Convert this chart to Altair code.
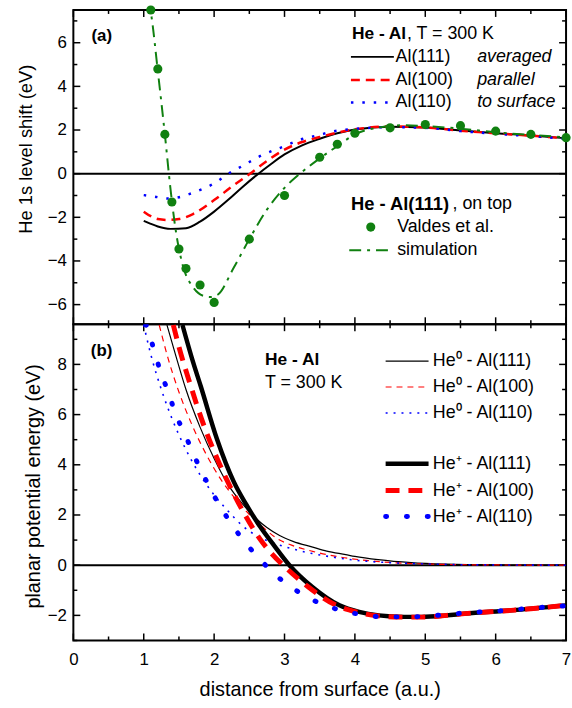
import altair as alt
import pandas as pd

FONT = "Liberation Sans"

# ---------------- panel (a) data : He 1s level shift ----------------
al111_x = [1.0, 1.1, 1.2, 1.38, 1.6, 1.8, 2.0, 2.2, 2.4, 2.63, 2.8, 3.0, 3.25, 3.5, 3.75, 4.0, 4.5, 5.0, 5.5, 6.0, 6.5, 7.0]
al111_y = [-2.16, -2.3, -2.42, -2.53, -2.5, -2.2, -1.74, -1.2, -0.62, 0.0, 0.42, 0.88, 1.3, 1.6, 1.85, 2.02, 2.15, 2.12, 1.98, 1.85, 1.75, 1.62]

al100_x = [1.0, 1.1, 1.2, 1.34, 1.5, 1.7, 2.0, 2.25, 2.51, 2.75, 3.0, 3.25, 3.5, 3.75, 4.0, 4.5, 5.0, 5.5, 6.0, 6.5, 7.0]
al100_y = [-1.74, -1.95, -2.08, -2.12, -2.08, -1.85, -1.21, -0.6, 0.0, 0.58, 1.1, 1.45, 1.68, 1.88, 2.03, 2.16, 2.12, 1.97, 1.85, 1.74, 1.62]

al110_x = [1.0, 1.15, 1.34, 1.5, 1.67, 1.85, 2.0, 2.2, 2.4, 2.65, 3.0, 3.22, 3.5, 3.68, 4.0, 4.5, 5.0, 5.5, 6.0, 6.5, 7.0]
al110_y = [-0.98, -1.05, -1.14, -1.08, -0.91, -0.68, -0.45, 0.0, 0.35, 0.8, 1.26, 1.55, 1.78, 1.93, 2.05, 2.13, 2.1, 1.95, 1.83, 1.72, 1.6]

valdes_x = [1.1, 1.2, 1.3, 1.4, 1.5, 1.6, 1.8, 2.0, 2.5, 3.0, 3.5, 3.75, 4.0, 4.5, 5.0, 5.5, 6.0, 6.5, 7.0]
valdes_y = [7.5, 4.8, 1.8, -1.3, -3.45, -4.35, -5.1, -5.9, -3.0, -1.0, 0.75, 1.35, 1.85, 2.1, 2.25, 2.2, 1.95, 1.8, 1.65]

sim_x = [1.06, 1.1, 1.2, 1.3, 1.38, 1.45, 1.55, 1.7, 1.85, 1.95, 2.05, 2.28, 2.5, 2.75, 3.0, 3.22, 3.5, 3.75, 4.0, 4.35, 4.7, 5.0, 5.5, 6.0, 6.5, 7.0]
sim_y = [8.0, 7.4, 4.7, 1.8, -0.7, -2.5, -4.15, -5.2, -5.6, -5.65, -5.55, -4.3, -3.0, -1.65, -0.65, 0.0, 0.7, 1.26, 1.8, 2.12, 2.22, 2.18, 2.06, 1.9, 1.77, 1.67]

# ---------------- panel (b) data : planar potential energy ----------------
he0_111_x = [1.33, 1.45, 1.6, 1.8, 2.0, 2.2, 2.4, 2.6, 2.75, 2.93, 3.12, 3.4, 3.6, 3.87, 4.0, 4.33, 4.8, 5.3, 6.0, 7.0]
he0_111_y = [9.57, 8.4, 7.0, 5.5, 4.25, 3.2, 2.45, 1.85, 1.5, 1.18, 0.95, 0.72, 0.56, 0.42, 0.35, 0.22, 0.1, 0.04, 0.01, 0.0]

he0_100_x = [1.22, 1.35, 1.5, 1.7, 1.9, 2.1, 2.3, 2.5, 2.7, 2.9, 3.1, 3.4, 3.8, 4.2, 4.6, 5.0, 5.5, 6.0, 7.0]
he0_100_y = [9.57, 8.2, 6.9, 5.5, 4.35, 3.4, 2.65, 2.02, 1.5, 1.05, 0.8, 0.55, 0.32, 0.18, 0.09, 0.05, 0.02, 0.01, 0.0]

he0_110_x = [1.0, 1.1, 1.25, 1.4, 1.6, 1.8, 2.0, 2.2, 2.4, 2.6, 2.8, 3.0, 3.3, 3.6, 4.0, 4.5, 5.0, 5.5, 6.0, 7.0]
he0_110_y = [9.57, 8.4, 7.0, 5.85, 4.6, 3.6, 2.8, 2.15, 1.58, 1.18, 0.93, 0.74, 0.52, 0.36, 0.2, 0.1, 0.05, 0.02, 0.01, 0.0]

hep_111_x = [1.55, 1.7, 1.81, 2.04, 2.28, 2.46, 2.65, 2.84, 3.07, 3.4, 3.78, 4.06, 4.34, 4.7, 4.95, 5.3, 5.56, 6.22, 7.0]
hep_111_y = [9.57, 8.1, 7.13, 5.03, 3.32, 2.4, 1.55, 0.83, 0.0, -0.88, -1.6, -1.86, -2.0, -2.06, -2.06, -2.0, -1.93, -1.8, -1.6]

hep_100_x = [1.42, 1.5, 1.65, 1.85, 2.05, 2.25, 2.45, 2.65, 2.82, 3.0, 3.33, 3.72, 4.02, 4.32, 4.7, 4.95, 5.3, 5.56, 6.22, 7.0]
hep_100_y = [9.57, 8.7, 7.3, 5.6, 4.2, 3.0, 1.95, 1.05, 0.45, -0.05, -0.85, -1.58, -1.86, -2.02, -2.07, -2.07, -2.0, -1.93, -1.8, -1.6]

hep_110_x = [1.03, 1.06, 1.15, 1.24, 1.35, 1.45, 1.58, 1.71, 1.85, 2.0, 2.18, 2.38, 2.63, 2.91, 3.2, 3.5, 3.8, 4.1, 4.4, 4.69, 4.98, 5.28, 5.57, 5.87, 6.17, 6.47, 6.77, 7.0]
hep_110_y = [9.6, 9.36, 8.54, 7.69, 6.89, 6.04, 5.25, 4.4, 3.58, 2.76, 1.92, 1.12, 0.3, -0.48, -1.07, -1.51, -1.8, -1.97, -2.06, -2.06, -2.04, -1.97, -1.9, -1.85, -1.8, -1.72, -1.66, -1.62]

zero_line = [0.0]

# ---------------- texts ----------------
panel_tags = ["(a)", "(b)"]
legend_a_head = ["He - Al", ", T = 300 K"]
legend_a_labels = ["Al(111)", "Al(100)", "Al(110)"]
legend_a_notes = ["averaged", "parallel", "to surface"]
legend_a2_head = ["He - Al(111)", ", on top"]
legend_a2_labels = ["Valdes et al.", "simulation"]
legend_b_head = ["He - Al", "T = 300 K"]
legend_b_labels = ["He⁰ - Al(111)", "He⁰ - Al(100)", "He⁰ - Al(110)",
                   "He⁺ - Al(111)", "He⁺ - Al(100)", "He⁺ - Al(110)"]
x_title = "distance from surface (a.u.)"
ya_title = "He 1s level shift (eV)"
yb_title = "planar potential energy (eV)"

x_major = [0, 1, 2, 3, 4, 5, 6, 7]
x_minor = [0.5, 1.5, 2.5, 3.5, 4.5, 5.5, 6.5]
ya_major = [-6, -4, -2, 0, 2, 4, 6]
ya_minor = [-5, -3, -1, 1, 3, 5, 7]
yb_major = [-2, 0, 2, 4, 6, 8]
yb_minor = [-3, -1, 1, 3, 5, 7, 9]

RED = "#ff0000"
BLUE = "#0000ff"
GREEN = "#108010"

W = 497
HA = 317
HB = 319
XDOM = [0, 7]
YA_DOM = [-6.9, 7.5]
YB_DOM = [-3.0, 9.6]
MAJ = 7
MIN = 4


def label_axis(orient, values, title, tsize, tx, ty, pad):
    kw = dict(orient=orient, values=values, labels=True, ticks=False, tickSize=0,
              domain=False, grid=False, labelFont=FONT, labelFontSize=17,
              labelColor="black", labelPadding=pad, labelOverlap=False,
              labelFlush=False, title=title, titleFont=FONT, titleFontSize=tsize,
              titleFontWeight="normal", titleColor="black", titleX=tx, titleY=ty,
              titleAlign="center", titleBaseline="alphabetic")
    if orient == "left":
        kw["titleAngle"] = 270
    return alt.Axis(**kw)


class Panel:
    """Holds the scales and axis definitions shared by every layer of one panel."""

    def __init__(self, ydom, H, xaxis, yaxis):
        self.ydom, self.H, self.xaxis, self.yaxis = ydom, H, xaxis, yaxis

    def X(self, f="x"):
        return alt.X(f + ":Q", scale=alt.Scale(domain=XDOM, nice=False, zero=False),
                     axis=self.xaxis)

    def Y(self, f="y"):
        return alt.Y(f + ":Q", scale=alt.Scale(domain=self.ydom, nice=False, zero=False),
                     axis=self.yaxis)

    def line(self, xs, ys, style, clip=False):
        df = pd.DataFrame({"x": xs, "y": ys})
        return alt.Chart(df).mark_line(interpolate="monotone", clip=clip, **style).encode(
            x=self.X(), y=self.Y())

    def points(self, xs, ys):
        df = pd.DataFrame({"x": xs, "y": ys})
        return alt.Chart(df).mark_point(filled=True, shape="circle", size=85, color=GREEN,
                                        opacity=1).encode(x=self.X(), y=self.Y())

    def zero(self):
        df = pd.DataFrame({"y": zero_line})
        return alt.Chart(df).mark_rule(color="black", strokeWidth=2).encode(y=self.Y())

    def frame_ticks(self, y_major, y_minor):
        """Inward ticks on all four edges, as segments in data space (lengths in px)."""
        y0, y1 = self.ydom
        ky = (y1 - y0) / self.H          # data units per pixel (y)
        kx = (XDOM[1] - XDOM[0]) / W     # data units per pixel (x)
        rows = []
        for vals, L in ((x_major, MAJ), (x_minor, MIN)):
            for v in vals:
                rows.append((v, v, y1, y1 - L * ky))   # top edge
                rows.append((v, v, y0, y0 + L * ky))   # bottom edge
        for vals, L in ((y_major, MAJ), (y_minor, MIN)):
            for v in vals:
                rows.append((XDOM[0], XDOM[0] + L * kx, v, v))   # left edge
                rows.append((XDOM[1], XDOM[1] - L * kx, v, v))   # right edge
        df = pd.DataFrame(rows, columns=["x", "x2", "y", "y2"])
        return alt.Chart(df).mark_rule(color="black", strokeWidth=1.5).encode(
            x=self.X(), x2="x2:Q", y=self.Y(), y2="y2:Q")


def text_layer(txt, px, py, size=18, weight="normal", style="normal"):
    df = pd.DataFrame({"t": [txt]})
    return alt.Chart(df).mark_text(align="left", baseline="middle", font=FONT, fontSize=size,
                                   fontWeight=weight, fontStyle=style, color="black").encode(
        x=alt.value(px), y=alt.value(py), text="t:N")


def sample_layer(x1, x2, py, style):
    df = pd.DataFrame({"t": ["s"]})
    return alt.Chart(df).mark_rule(**style).encode(
        x=alt.value(x1), x2=alt.value(x2), y=alt.value(py))


# styles
st_a111 = dict(color="black", strokeWidth=2)
st_a100 = dict(color=RED, strokeWidth=2.5, strokeDash=[9, 6])
st_a110 = dict(color=BLUE, strokeWidth=2.5, strokeDash=[2.5, 9])
st_sim = dict(color=GREEN, strokeWidth=2, strokeDash=[12, 6, 3, 6])
st_t111 = dict(color="black", strokeWidth=1.2)
st_t100 = dict(color=RED, strokeWidth=1.2, strokeDash=[6, 5])
st_t110 = dict(color=BLUE, strokeWidth=1.6, strokeDash=[2, 6])
st_k111 = dict(color="black", strokeWidth=4.5)
st_k100 = dict(color=RED, strokeWidth=5, strokeDash=[14, 9])
st_k110 = dict(color=BLUE, strokeWidth=5, strokeDash=[1, 20], strokeCap="round")

# ---------------- panel (a) ----------------
blank_x = alt.Axis(labels=False, ticks=False, domain=False, grid=False, title="")
PA = Panel(YA_DOM, HA, blank_x, label_axis("left", ya_major, ya_title, 18.5, -42, 140, 7))
pa_layers = [
    PA.frame_ticks(ya_major, ya_minor),
    PA.zero(),
    PA.line(al111_x, al111_y, st_a111),
    PA.line(al100_x, al100_y, st_a100),
    PA.line(al110_x, al110_y, st_a110),
    PA.line(sim_x, sim_y, st_sim, clip=True),
    PA.points(valdes_x, valdes_y),
    text_layer(panel_tags[0], 18.3, 26.5, size=17, weight="bold"),
    text_layer(legend_a_head[0], 281, 24.7, size=17.5, weight="bold"),
    text_layer(legend_a_head[1], 336.5, 24.7),
]
rows_a = [47.3, 70.7, 93.3]
for lab, note, yy, st in zip(legend_a_labels, legend_a_notes, rows_a, [st_a111, st_a100, st_a110]):
    pa_layers.append(sample_layer(280, 323.3, yy, st))
    pa_layers.append(text_layer(lab, 325, yy))
    pa_layers.append(text_layer(note, 407.3, yy, style="italic"))
pa_layers += [
    text_layer(legend_a2_head[0], 280, 195.7, size=18.5, weight="bold"),
    text_layer(legend_a2_head[1], 382.5, 195.7),
    alt.Chart(pd.DataFrame({"t": ["m"]})).mark_point(filled=True, shape="circle", size=85,
                                                      color=GREEN, opacity=1).encode(
        x=alt.value(300), y=alt.value(219)),
    text_layer(legend_a2_labels[0], 326.6, 219),
    sample_layer(278.3, 318.3, 242.3, st_sim),
    text_layer(legend_a2_labels[1], 326.6, 242.3),
]
panel_a = alt.layer(*pa_layers).properties(width=W, height=HA)

# ---------------- panel (b) ----------------
PB = Panel(YB_DOM, HB,
           label_axis("bottom", x_major, x_title, 20, W / 2, 56, 11),
           label_axis("left", yb_major, yb_title, 20, -34, 163, 7))
pb_layers = [
    PB.frame_ticks(yb_major, yb_minor),
    PB.zero(),
    PB.line(he0_111_x, he0_111_y, st_t111, clip=True),
    PB.line(he0_100_x, he0_100_y, st_t100, clip=True),
    PB.line(he0_110_x, he0_110_y, st_t110, clip=True),
    PB.line(hep_111_x, hep_111_y, st_k111, clip=True),
    PB.line(hep_100_x, hep_100_y, st_k100, clip=True),
    PB.line(hep_110_x, hep_110_y, st_k110, clip=True),
    text_layer(panel_tags[1], 17.6, 27.5, size=17, weight="bold"),
    text_layer(legend_b_head[0], 193.3, 36.3, size=17.5, weight="bold"),
    text_layer(legend_b_head[1], 193.3, 59),
]
rows_b = [37.3, 63.3, 89.5, 140.7, 167.8, 194]
for lab, yy, st in zip(legend_b_labels, rows_b, [st_t111, st_t100, st_t110, st_k111, st_k100, st_k110]):
    pb_layers.append(sample_layer(315, 358.3, yy, st))
    pb_layers.append(text_layer(lab, 362.6, yy))
panel_b = alt.layer(*pb_layers).properties(width=W, height=HB)

chart = alt.vconcat(panel_a, panel_b, spacing=0, bounds="flush").properties(
    padding={"left": 15, "top": 1, "right": 0, "bottom": 0},
    background="white",
).configure_view(stroke="black", strokeWidth=2)

chart.save("out.html", embed_options={"renderer": "svg", "actions": False})
